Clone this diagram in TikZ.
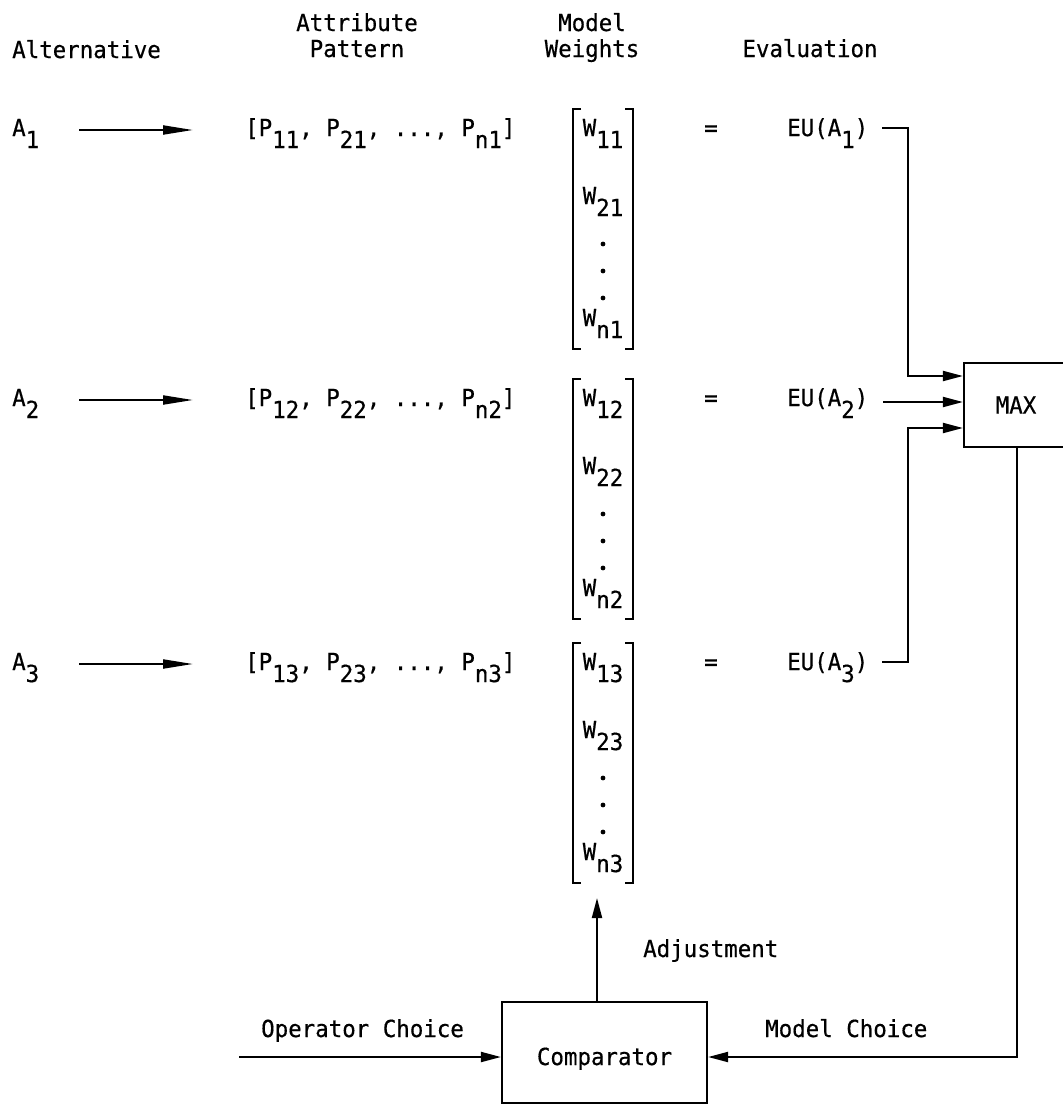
\documentclass[tikz,border=0pt]{standalone}
\usepackage{fontspec}
\setmainfont{DejaVu Sans Mono}[FakeStretch=0.955,FakeBold=0.5]
\usetikzlibrary{arrows.meta,calc}
\newcommand\sbx[1]{\raisebox{-12pt}{#1}}
\begin{document}
\begin{tikzpicture}[x=1pt,y=-1pt,
  tx/.style={font=\fontsize{23.5}{27}\selectfont, inner sep=0pt},
  ln/.style={line width=2pt},
  arr/.style={ln, -{Triangle[length=20pt,width=10pt]}},
  aarr/.style={ln, -{Triangle[length=30pt,width=9pt]}},
  brk/.style={line width=2.2pt},
  box/.style={draw, line width=2.2pt, inner sep=0pt, font=\fontsize{23.5}{27}\selectfont}
]
\useasboundingbox (0,0) rectangle (1063,1106);
\fill[white] (0,0) rectangle (1063,1106);

% headers
\node[tx, anchor=base west] (hAlt) at (12,58) {Alternative};
\node[tx, anchor=base] (hAtt1) at (357,31) {Attribute};
\node[tx, anchor=base] (hAtt2) at (357,57) {Pattern};
\node[tx, anchor=base] (hMod1) at (592,31) {Model};
\node[tx, anchor=base] (hMod2) at (592,57) {Weights};
\node[tx, anchor=base] (hEval) at (810,57) {Evaluation};

% rows
\foreach \i/\yb in {1/136,2/406,3/670}{
  \node[tx, anchor=base west] (A\i) at (12,\yb) {A\sbx{\i}};
  \node[tx, anchor=base west] (P\i) at (245,\yb) {[P\sbx{1\i}, P\sbx{2\i}, ..., P\sbx{n\i}]};
  \draw[aarr] ($(A\i.base east)+(40,-6)$) -- ($(P\i.base west)+(-52,-6)$);
  \node[tx, anchor=base] (W1\i) at (603,\yb) {W\sbx{1\i}};
  \node[tx, anchor=base] (W2\i) at (603,\yb+68) {W\sbx{2\i}};
  \fill (603,\yb+108) circle[radius=2.4pt];
  \fill (603,\yb+135) circle[radius=2.4pt];
  \fill (603,\yb+162) circle[radius=2.4pt];
  \node[tx, anchor=base] (Wn\i) at (603,\yb+190) {W\sbx{n\i}};
  \draw[brk] (581,\yb-27) -- (573,\yb-27) -- (573,\yb+213) -- (581,\yb+213);
  \draw[brk] (625,\yb-27) -- (633,\yb-27) -- (633,\yb+213) -- (625,\yb+213);
  \node[tx, anchor=base] (eq\i) at (711,\yb) {=};
  \node[tx, anchor=base west] (EU\i) at (787,\yb) {EU(A\sbx{\i})};
}

% boxes
\node[box, minimum width=104pt, minimum height=84pt] (MAX) at (1016,405) {MAX};
\node[box, minimum width=205pt, minimum height=101pt, text height=30pt, text depth=5pt] (Comp) at (604.5,1052.5) {Comparator};

% connectors
\draw[arr] ($(EU1.base east)+(14,-8)$) -- ++(26,0) |- ($(MAX.west)+(0,-29)$);
\draw[arr] ($(EU2.base east)+(15,-4)$) -- ($(MAX.west)+(0,-3)$);
\draw[arr] ($(EU3.base east)+(14,-8)$) -- ++(26,0) |- ($(MAX.west)+(0,23)$);
\draw[arr] ($(MAX.south)+(1,0)$) |- ($(Comp.east)+(0,4.5)$);
\coordinate (opin) at (239,1057);
\draw[arr] (opin) -- ($(Comp.west)+(0,4.5)$);
\coordinate (M3b) at (597,898);
\draw[arr] (Comp.north -| M3b) -- (M3b);

% labels
\node[tx, anchor=base west] (lAdj) at (643,957) {Adjustment};
\node[tx, anchor=base west] (lOp) at (261,1037) {Operator Choice};
\node[tx, anchor=base west] (lMod) at (765,1037) {Model Choice};
\end{tikzpicture}
\end{document}
